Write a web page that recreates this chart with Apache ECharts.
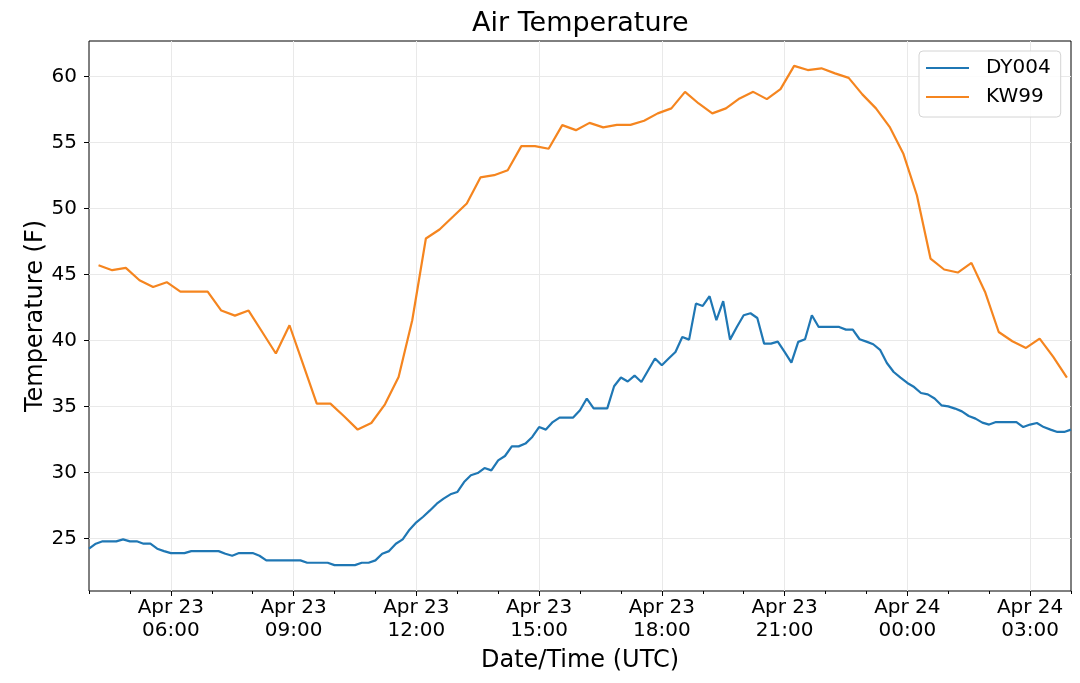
<!DOCTYPE html>
<html><head><meta charset="utf-8">
<script src="https://cdn.jsdelivr.net/npm/echarts@6/dist/echarts.min.js"></script>
<style>html,body{margin:0;padding:0;background:#fff}#c{width:1080px;height:683px}</style>
</head><body><div id="c"></div>
<script>
// ---- data ----
const seriesNames = ['DY004', 'KW99'];
const dyStart = '2021-04-23T04:00:00Z';
const dyStepMinutes = 10;
const dyValues = [
  24.24,24.62,24.80,24.80,24.80,24.95,24.80,24.80,24.62,24.62,24.24,24.06,
  23.91,23.91,23.91,24.06,24.06,24.06,24.06,24.06,23.86,23.71,23.91,23.91,
  23.91,23.71,23.36,23.36,23.36,23.36,23.36,23.36,23.18,23.18,23.18,23.18,
  23.00,23.00,23.00,23.00,23.18,23.18,23.36,23.86,24.06,24.62,24.95,25.68,
  26.24,26.66,27.14,27.65,28.03,28.36,28.53,29.29,29.80,29.97,30.35,30.17,
  30.93,31.26,31.99,31.99,32.20,32.70,33.45,33.26,33.83,34.17,34.17,34.17,
  34.72,35.61,34.87,34.87,34.87,36.54,37.20,36.90,37.35,36.86,37.75,38.64,
  38.13,38.64,39.14,40.27,40.07,42.80,42.62,43.36,41.54,42.98,40.07,41.03,
  41.92,42.07,41.71,39.77,39.77,39.92,39.14,38.33,39.90,40.10,41.92,41.03,
  41.03,41.03,41.03,40.83,40.83,40.10,39.92,39.72,39.30,38.30,37.62,37.19,
  36.79,36.48,36.03,35.93,35.61,35.10,35.02,34.85,34.64,34.29,34.09,33.79,
  33.64,33.83,33.83,33.83,33.83,33.45,33.64,33.76,33.45,33.26,33.08,33.08,
  33.26
];
const kwStart = '2021-04-23T04:14:00Z';
const kwStepMinutes = 20;
const kwValues = [
  45.70,45.33,45.50,44.57,44.06,44.42,43.71,43.71,43.71,42.27,41.89,42.27,
  40.65,39.02,41.16,38.20,35.23,35.23,34.27,33.26,33.76,35.17,37.24,41.54,
  47.73,48.41,49.39,50.38,52.35,52.52,52.90,54.72,54.72,54.52,56.31,55.93,
  56.48,56.14,56.33,56.33,56.64,57.20,57.58,58.83,57.95,57.20,57.58,58.33,
  58.83,58.28,59.04,60.80,60.48,60.61,60.23,59.89,58.64,57.58,56.18,54.17,
  51.00,46.21,45.38,45.15,45.88,43.68,40.65,39.95,39.44,40.15,38.76,37.20
];
const xTickTimes = [
  '2021-04-23T06:00:00Z','2021-04-23T09:00:00Z','2021-04-23T12:00:00Z',
  '2021-04-23T15:00:00Z','2021-04-23T18:00:00Z','2021-04-23T21:00:00Z',
  '2021-04-24T00:00:00Z','2021-04-24T03:00:00Z'
];
const xRange = ['2021-04-23T04:00:00Z', '2021-04-24T04:00:00Z'];
const yTicks = [25, 30, 35, 40, 45, 50, 55, 60];
const yRange = [21.04, 62.68];
const monthNames = ['Jan','Feb','Mar','Apr','May','Jun','Jul','Aug','Sep','Oct','Nov','Dec'];

// ---- build ----
function toPairs(start, stepMin, values) {
  const t0 = Date.parse(start);
  return values.map((v, i) => [t0 + i * stepMin * 60000, v]);
}
const pad2 = n => (n < 10 ? '0' : '') + n;
function fmtTime(v) {
  const d = new Date(v);
  return monthNames[d.getUTCMonth()] + ' ' + d.getUTCDate() + '\n' +
    pad2(d.getUTCHours()) + ':' + pad2(d.getUTCMinutes());
}
const xTicks = xTickTimes.map(s => Date.parse(s));
const xMin = Date.parse(xRange[0]), xMax = Date.parse(xRange[1]);
const FONT = 'DejaVu Sans';
const gridColor = '#e9e9e9';

const chart = echarts.init(document.getElementById('c'), null, {renderer: 'canvas'});
chart.setOption({
  animation: false,
  backgroundColor: '#fff',
  textStyle: {fontFamily: FONT},
  title: {
    text: 'Air Temperature', left: 467, top: 5,
    textStyle: {fontFamily: FONT, fontSize: 27, fontWeight: 'normal', color: '#000'}
  },
  grid: {left: 89, top: 41, width: 982, height: 550, show: true,
         borderColor: '#000', borderWidth: 1, backgroundColor: 'transparent'},
  legend: {
    orient: 'vertical', left: 919, top: 51,
    icon: 'rect', itemWidth: 43, itemHeight: 2, itemGap: 9,
    padding: [7, 10, 10, 7],
    backgroundColor: 'rgba(255,255,255,0.85)', borderColor: '#d4d4d4',
    borderWidth: 1, borderRadius: 4,
    textStyle: {fontFamily: FONT, fontSize: 20, lineHeight: 20, color: '#000', padding: [0,0,0,12]},
    data: seriesNames
  },
  xAxis: [{
    type: 'value', min: xMin, max: xMax,
    axisLine: {show: false},
    axisTick: {show: true, customValues: xTicks, length: 5, lineStyle: {color: '#000'}},
    axisLabel: {customValues: xTicks, formatter: fmtTime, fontFamily: FONT, fontSize: 20,
                lineHeight: 23.5, color: '#000', margin: 5},
    splitLine: {show: true, lineStyle: {color: gridColor, width: 1}},
    name: 'Date/Time (UTC)', nameLocation: 'middle', nameGap: 58,
    nameMoveOverlap: false,
    nameTextStyle: {fontFamily: FONT, fontSize: 24, color: '#000'}
  }, {
    type: 'value', min: xMin, max: xMax, interval: 3600000, position: 'bottom',
    axisLine: {show: false},
    axisTick: {show: true, length: 3, lineStyle: {color: '#000'}},
    axisLabel: {show: false}, splitLine: {show: false}
  }],
  yAxis: {
    type: 'value', min: yRange[0], max: yRange[1],
    axisLine: {show: false},
    axisTick: {show: true, customValues: yTicks, length: 5, lineStyle: {color: '#000'}},
    axisLabel: {customValues: yTicks, fontFamily: FONT, fontSize: 20, color: '#000', margin: 12},
    splitLine: {show: true, lineStyle: {color: gridColor, width: 1}},
    name: 'Temperature (F)', nameLocation: 'middle', nameGap: 41,
    nameMoveOverlap: false,
    nameTextStyle: {fontFamily: FONT, fontSize: 24, color: '#000'}
  },
  series: [{
    name: seriesNames[0], type: 'line', xAxisIndex: 0, symbol: 'none', showSymbol: false,
    data: toPairs(dyStart, dyStepMinutes, dyValues),
    lineStyle: {width: 2.2, color: '#1f77b4'}, itemStyle: {color: '#1f77b4'}
  }, {
    name: seriesNames[1], type: 'line', xAxisIndex: 0, symbol: 'none', showSymbol: false,
    data: toPairs(kwStart, kwStepMinutes, kwValues),
    lineStyle: {width: 2.2, color: '#f5851f'}, itemStyle: {color: '#f5851f'}
  }]
});
</script>
</body></html>
